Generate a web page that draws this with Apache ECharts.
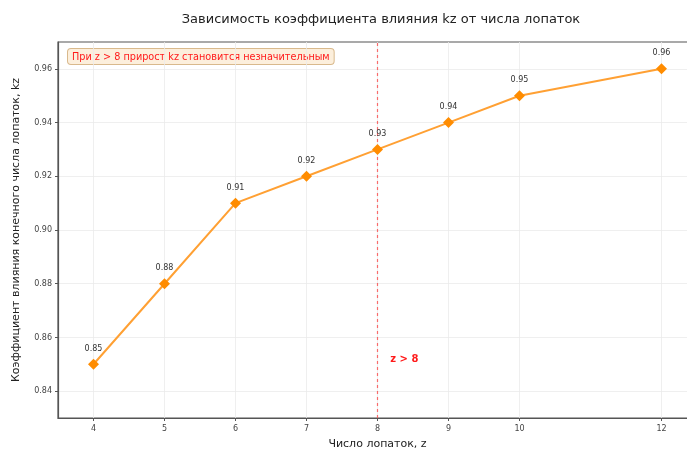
<!DOCTYPE html>
<html>
<head>
<meta charset="utf-8">
<script src="https://cdn.jsdelivr.net/npm/echarts@6/dist/echarts.min.js"></script>
<style>
  html, body { margin: 0; padding: 0; background: #fff; }
  #chart { width: 687px; height: 452px; }
</style>
</head>
<body>
<div id="chart"></div>
<script>
// число лопаток и коэффициент kz
var zValues = [4, 5, 6, 7, 8, 9, 10, 12];
var kzValues = [0.85, 0.88, 0.91, 0.92, 0.93, 0.94, 0.95, 0.96];
var xTicks = [4, 5, 6, 7, 8, 9, 10, 12];
var yTicks = [0.84, 0.86, 0.88, 0.90, 0.92, 0.94, 0.96];
var zLimit = 8;
var yRange = [0.83, 0.97];
var zNote = [8.18, 0.852];
var noteText = 'При z > 8 прирост kz становится незначительным';

var chart = echarts.init(document.getElementById('chart'));

var points = zValues.map(function (z, i) { return [z, kzValues[i]]; });

chart.setOption({
  animation: false,
  textStyle: { fontFamily: 'DejaVu Sans' },
  title: {
    text: 'Зависимость коэффициента влияния kz от числа лопаток',
    left: 376,
    textAlign: 'center',
    top: 8,
    textStyle: { fontSize: 13, fontWeight: 'normal', color: '#222', fontFamily: 'DejaVu Sans' }
  },
  grid: {
    left: 58, top: 42, right: -10, bottom: 34,
    outerBoundsMode: 'none',
    containLabel: false,
    show: true, borderColor: '#555', borderWidth: 1.2, backgroundColor: 'transparent'
  },
  xAxis: {
    type: 'value',
    min: 3.5, max: 12.5,
    name: 'Число лопаток, z',
    nameLocation: 'middle',
    nameGap: 21,
    nameTextStyle: { fontSize: 11, color: '#222' },
    axisLine: { lineStyle: { color: '#555', width: 1.2 } },
    axisTick: { customValues: xTicks, length: 3, lineStyle: { color: '#555' } },
    axisLabel: { customValues: xTicks, fontSize: 8, color: '#444', margin: 7 },
    splitLine: { show: true, lineStyle: { color: '#ebebeb', width: 0.8 } }
  },
  yAxis: {
    type: 'value',
    min: yRange[0], max: yRange[1],
    name: 'Коэффициент влияния конечного числа лопаток, kz',
    nameLocation: 'middle',
    nameGap: 36,
    nameTextStyle: { fontSize: 11, color: '#222' },
    axisLine: { show: true, lineStyle: { color: '#555', width: 1.2 } },
    axisTick: { show: true, customValues: yTicks, length: 3, lineStyle: { color: '#555' } },
    axisLabel: {
      customValues: yTicks, fontSize: 8, color: '#444', margin: 6,
      formatter: function (v) { return v.toFixed(2); }
    },
    splitLine: { show: true, lineStyle: { color: '#ebebeb', width: 0.8 } }
  },
  series: [{
    // граница z = 8
    type: 'line',
    data: [[zLimit, yRange[0]], [zLimit, yRange[1]]],
    symbol: 'none',
    silent: true,
    z: 1,
    itemStyle: { color: 'rgba(255,0,0,0.55)' },
    lineStyle: { color: 'rgba(255,0,0,0.55)', type: [3, 3], width: 1.2 }
  }, {
    type: 'line',
    data: points,
    symbol: 'diamond',
    symbolSize: 11,
    z: 3,
    lineStyle: { color: '#ffa033', width: 2 },
    itemStyle: { color: '#ff8c00' },
    label: {
      show: true, position: 'top', distance: 6,
      fontSize: 8, color: '#333',
      formatter: function (p) { return p.value[1].toFixed(2); }
    },
    markPoint: {
      silent: true,
      symbolSize: 0,
      data: [{
        coord: zNote,
        label: {
          show: true, position: 'right', distance: 0,
          formatter: 'z > 8', fontSize: 10, fontWeight: 'bold', color: '#ff1a1a'
        }
      }]
    }
  }],
  graphic: [{
    type: 'text',
    left: 67,
    top: 48,
    style: {
      text: noteText,
      fontSize: 9.7,
      fontFamily: 'DejaVu Sans',
      fill: '#ff1a1a',
      backgroundColor: '#fcefdc',
      borderColor: '#d9b98c',
      borderWidth: 1,
      borderRadius: 3,
      padding: [3, 4, 2, 4]
    }
  }]
});
</script>
</body>
</html>
